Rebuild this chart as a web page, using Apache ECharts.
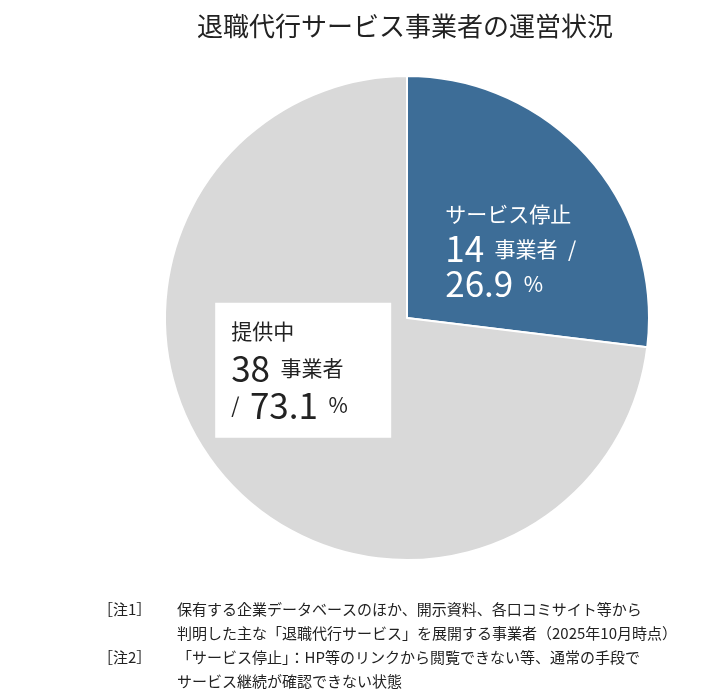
<!DOCTYPE html>
<html lang="ja">
<head>
    <meta charset="UTF-8">
    <title>退職代行サービス事業者の運営状況</title>
    <script src="https://cdn.jsdelivr.net/npm/echarts@6/dist/echarts.min.js"></script>
    <style>
        html, body { margin: 0; padding: 0; background: #ffffff; }
        #main { width: 717px; height: 699px; }
    </style>
</head>
<body>
<div id="main"></div>

<script type="text/javascript">
    // データ
    var categories = ['サービス停止', '提供中'];
    var counts = [14, 38];          // 事業者数
    var shares = [26.9, 73.1];      // 構成比（%）
    var sliceColors = ['#3d6d97', '#d9d9d9'];

    var noteLines = [
        ['［注1］', '保有する企業データベースのほか、開示資料、各口コミサイト等から'],
        ['', '判明した主な「退職代行サービス」を展開する事業者（2025年10月時点）'],
        ['［注2］', '「サービス停止」：HP等のリンクから閲覧できない等、通常の手段で'],
        ['', 'サービス継続が確認できない状態']
    ];

    var myChart = echarts.init(document.getElementById('main'));

    var fontJP = '"Noto Sans CJK JP", "Noto Sans", sans-serif';
    var sp = '\u2002';   // 数字と単位の間の空白

    // 注記テキスト
    var noteText = noteLines.map(function (l) {
        return '{tag|' + (l[0] || ' ') + '}{txt|' + l[1] + '}';
    }).join('\n');

    function richSet(color, lh) {
        return {
            name: { color: color, fontSize: 21, lineHeight: lh, align: 'left', fontFamily: fontJP },
            num: { color: color, fontSize: 35, lineHeight: lh, align: 'left', fontFamily: fontJP },
            unit: { color: color, fontSize: 21, lineHeight: lh, align: 'left', fontFamily: fontJP }
        };
    }

    // ラベル（各スライス）
    var labelStop = {
        position: 'inside',
        offset: [11, 13],
        formatter: '{name|' + categories[0] + '}\n{num|' + counts[0] + '}{unit|' + sp + '事業者' + sp + '/}\n{num|' + shares[0] + '}{unit|' + sp + '%}',
        rich: richSet('#ffffff', 35)
    };
    var labelActive = {
        position: 'inside',
        offset: [-11, -30],
        backgroundColor: '#ffffff',
        width: 145,
        padding: [10, 15, 14, 16],
        formatter: '{name|' + categories[1] + '}\n{num|' + counts[1] + '}{unit|' + sp + '事業者}\n{unit|/' + sp + '}{num|' + shares[1] + '}{unit|' + sp + '%}',
        rich: richSet('#222222', 37)
    };
    var labels = [labelStop, labelActive];

    var option = {
        backgroundColor: '#ffffff',
        animation: false,
        title: [
            {
                text: '退職代行サービス事業者の運営状況',
                left: 192,
                top: 8,
                textStyle: {
                    color: '#222',
                    fontSize: 26,
                    fontWeight: 'normal',
                    fontFamily: fontJP
                }
            },
            {
                text: noteText,
                left: 93,
                top: 592,
                textStyle: {
                    fontWeight: 'normal',
                    rich: {
                        tag: { width: 79, fontSize: 15, lineHeight: 24, color: '#222', fontWeight: 'normal', fontFamily: fontJP },
                        txt: { fontSize: 15, lineHeight: 24, color: '#222', fontWeight: 'normal', fontFamily: fontJP }
                    }
                }
            }
        ],
        series: [
            {
                name: '運営状況',
                type: 'pie',
                center: [407, 318],
                radius: 242,
                startAngle: 90,
                clockwise: true,
                silent: true,
                itemStyle: {
                    borderColor: '#ffffff',
                    borderWidth: 2
                },
                labelLine: { show: false },
                data: categories.map(function (c, i) {
                    return {
                        name: c,
                        value: counts[i],
                        itemStyle: { color: sliceColors[i] },
                        label: labels[i]
                    };
                })
            }
        ]
    };

    myChart.setOption(option);
</script>
</body>
</html>
